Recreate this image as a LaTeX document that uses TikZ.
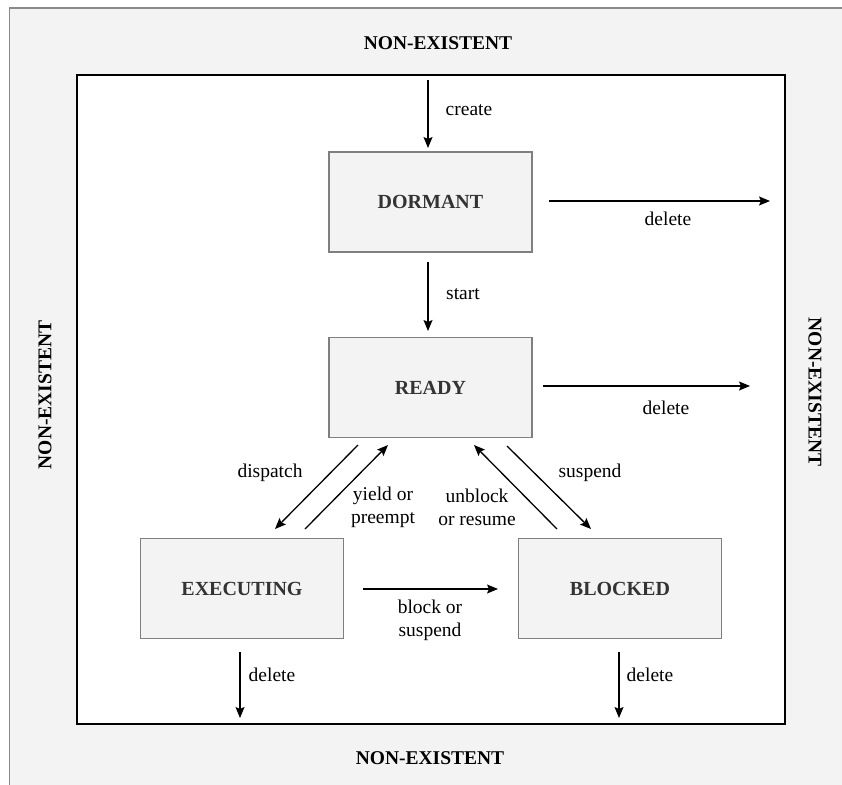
\documentclass[tikz,border=0pt]{standalone}
\usepackage{fontspec}
\setmainfont{Liberation Serif}
\usetikzlibrary{arrows.meta}
\definecolor{panel}{HTML}{F3F3F3}
\definecolor{framegray}{HTML}{8A8A8A}
\definecolor{boxedge}{HTML}{7F7F7F}
\definecolor{boxtext}{HTML}{333333}
\tikzset{
  state/.style={draw=boxedge, fill=panel, line width=1.2bp, minimum width=203bp,
    minimum height=100bp, inner sep=0pt, outer sep=0pt, text=boxtext,
    font=\fontsize{20bp}{23bp}\selectfont\bfseries},
  edgelabel/.style={inner sep=0pt, align=center, font=\fontsize{19.5bp}{23bp}\selectfont},
  region/.style={inner sep=0pt, font=\fontsize{19.5bp}{23bp}\selectfont\bfseries},
  trans/.style={line width=1.3bp, -{Stealth[length=11bp, width=9bp, inset=2bp]}}
}
\begin{document}
\begin{tikzpicture}[x=1bp, y=-1bp]
  \useasboundingbox (0,0) rectangle (842,785);
  \fill[white] (0,0) rectangle (842,785);
  % grey outer area of the task life cycle
  \fill[panel] (9.5,8) rectangle (850,790);
  \draw[framegray, line width=1.5bp] (9.5,790) -- (9.5,8) -- (850,8);
  % existence region
  \draw[black, line width=1.5bp, fill=white] (77,75) rectangle (785,724);

  % outside labels
  \node[region] (ntop) at (438,43) {NON-EXISTENT};
  \node[region] (nbot) at (430,758) {NON-EXISTENT};
  \node[region, rotate=90] (nleft) at (45,395) {NON-EXISTENT};
  \node[region, rotate=-90] (nright) at (815,392) {NON-EXISTENT};

  % states
  \node[state] (dormant) at (430.5,202) {DORMANT};
  \node[state] (ready) at (430.5,387.5) {READY};
  \node[state] (exec) at (242,588.5) {EXECUTING};
  \node[state] (blocked) at (620,588.5) {BLOCKED};

  % free ends of the transitions
  \coordinate (c0) at (428,80);
  \coordinate (c1) at (428,148);
  \coordinate (d0) at (549,201);
  \coordinate (d1) at (770,201);
  \coordinate (s0) at (428,262);
  \coordinate (s1) at (428,331);
  \coordinate (r0) at (543,386);
  \coordinate (r1) at (750,386);
  \coordinate (p0) at (358,445);
  \coordinate (p1) at (275,529);
  \coordinate (y0) at (305,529);
  \coordinate (y1) at (388,445);
  \coordinate (u0) at (557,529);
  \coordinate (u1) at (474,445);
  \coordinate (q0) at (507,446);
  \coordinate (q1) at (591,529);
  \coordinate (b0) at (363,589);
  \coordinate (b1) at (498,589);
  \coordinate (e0) at (240,652);
  \coordinate (e1) at (240,718);
  \coordinate (k0) at (619,652);
  \coordinate (k1) at (619,718);

  % transitions
  \draw[trans] (c0) -- (c1);
  \draw[trans] (d0) -- (d1);
  \draw[trans] (s0) -- (s1);
  \draw[trans] (r0) -- (r1);
  \draw[trans] (p0) -- (p1);
  \draw[trans] (y0) -- (y1);
  \draw[trans] (u0) -- (u1);
  \draw[trans] (q0) -- (q1);
  \draw[trans] (b0) -- (b1);
  \draw[trans] (e0) -- (e1);
  \draw[trans] (k0) -- (k1);

  % transition labels
  \node[edgelabel] (lcreate) at (469,110) {create};
  \node[edgelabel] (ldel1) at (668,219) {delete};
  \node[edgelabel] (lstart) at (463,294) {start};
  \node[edgelabel] (ldel2) at (666,408) {delete};
  \node[edgelabel] (ldisp) at (270,473) {dispatch};
  \node[edgelabel] (lyield) at (383,507) {yield or\\preempt};
  \node[edgelabel] (lunbl) at (477,507) {unblock\\or resume};
  \node[edgelabel] (lsusp) at (590,473) {suspend};
  \node[edgelabel] (lblock) at (430,620) {block or\\suspend};
  \node[edgelabel] (ldel3) at (272,675) {delete};
  \node[edgelabel] (ldel4) at (650,675) {delete};
\end{tikzpicture}
\end{document}
